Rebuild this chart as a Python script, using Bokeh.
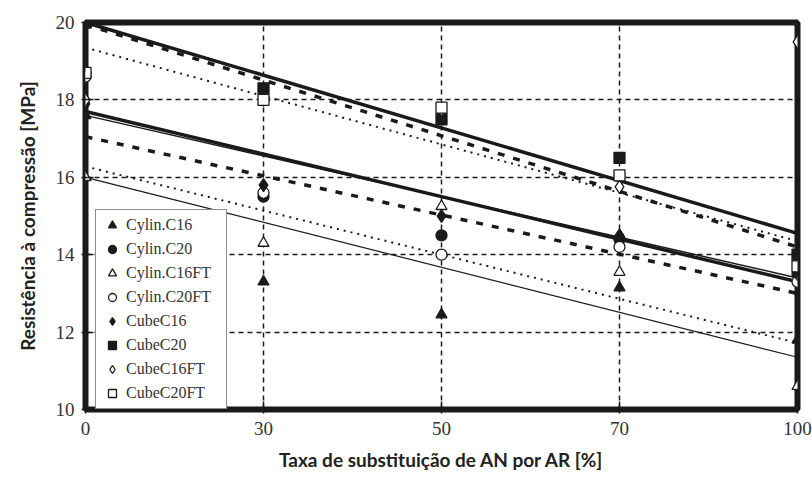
from bokeh.plotting import figure
from bokeh.models import Range1d, Legend, LegendItem, FixedTicker
from bokeh.embed import file_html
from bokeh.resources import INLINE

# ---- data ----
x_labels = ["0", "30", "50", "70", "100"]
x_pos = [0, 1, 2, 3, 4]

cylin_c16 = [17.6, 13.3, 12.45, 13.15, 11.8]
cylin_c20 = [18.7, 15.5, 14.5, 14.4, 13.5]
cylin_c16ft = [16.0, 14.3, 15.25, 13.55, 10.6]
cylin_c20ft = [18.6, 15.6, 14.0, 14.2, 13.3]
cube_c16 = [17.9, 15.8, 15.0, 14.5, 13.5]
cube_c20 = [20.0, 18.3, 17.5, 16.5, 14.0]
cube_c16ft = [18.0, 18.0, 17.75, 15.75, 19.5]
cube_c20ft = [18.7, 18.0, 17.8, 16.05, 13.7]

# trend lines (value at 0 and at 100)
trend_start = [20.0, 19.95, 19.35, 17.7, 17.6, 17.05, 16.28, 16.0]
trend_end = [14.55, 14.2, 14.35, 13.3, 13.4, 13.0, 11.72, 11.35]
trend_width = [3.5, 3.5, 2.0, 3.5, 1.5, 3.5, 2.0, 1.2]
trend_dash = ["solid", "7 9", "2 5", "solid", "solid", "7 9", "2 5", "solid"]

y_ticks = [10, 12, 14, 16, 18, 20]

p = figure(width=812, height=482, output_backend="svg", toolbar_location=None,
           x_range=Range1d(0, 4), y_range=Range1d(10, 20),
           min_border_left=85, min_border_right=15, min_border_top=22,
           min_border_bottom=73)

p.background_fill_color = "white"
p.border_fill_color = "white"
p.outline_line_color = "#1a1a1a"
p.outline_line_width = 6

# grid
p.xgrid.ticker = FixedTicker(ticks=[1, 2, 3])
p.ygrid.ticker = FixedTicker(ticks=[12, 14, 16, 18])
for g in (p.xgrid, p.ygrid):
    g.grid_line_color = "#1a1a1a"
    g.grid_line_width = 1.5
    g.grid_line_dash = "5 4"

# axes
p.xaxis.ticker = FixedTicker(ticks=x_pos)
p.xaxis.major_label_overrides = {i: s for i, s in zip(x_pos, x_labels)}
p.yaxis.ticker = FixedTicker(ticks=y_ticks)
for ax in (p.xaxis, p.yaxis):
    ax.axis_line_color = None
    ax.major_tick_line_color = "#1a1a1a"
    ax.major_tick_line_width = 1.5
    ax.major_tick_in = 8
    ax.major_tick_out = 4
    ax.minor_tick_line_color = None
    ax.major_label_text_font = "Liberation Serif"
    ax.major_label_text_font_size = "19px"
    ax.major_label_text_color = "#333333"
    ax.axis_label_text_font = "Lato"
    ax.axis_label_text_font_style = "bold"
    ax.axis_label_text_font_size = "19px"
    ax.axis_label_text_color = "#222222"

p.xaxis.axis_label = "Taxa de substituição de AN por AR [%]"
p.yaxis.axis_label = "Resistência à compressão [MPa]"
p.xaxis.major_label_standoff = 8
p.xaxis.axis_label_standoff = 10
p.yaxis.major_label_standoff = 7
p.yaxis.axis_label_standoff = 14

# trend lines
for s, e, w, d in zip(trend_start, trend_end, trend_width, trend_dash):
    p.line([x_pos[0], x_pos[-1]], [s, e], line_color="#1a1a1a", line_width=w, line_dash=d)

# markers
series = [
    ("Cylin.C16", cylin_c16, "triangle", "#1a1a1a"),
    ("Cylin.C20", cylin_c20, "circle", "#1a1a1a"),
    ("Cylin.C16FT", cylin_c16ft, "triangle", "white"),
    ("Cylin.C20FT", cylin_c20ft, "circle", "white"),
    ("CubeC16", cube_c16, "diamond", "#1a1a1a"),
    ("CubeC20", cube_c20, "square", "#1a1a1a"),
    ("CubeC16FT", cube_c16ft, "diamond", "white"),
    ("CubeC20FT", cube_c20ft, "square", "white"),
]
items = []
for name, vals, mk, fill in series:
    size = 13 if mk == "diamond" else 11
    r = p.scatter(x_pos, vals, marker=mk, size=size, fill_color=fill,
                  line_color="#1a1a1a", line_width=1.3)
    items.append(LegendItem(label=name, renderers=[r]))

legend = Legend(items=items, location=(10, 0))
legend.label_text_font = "Liberation Serif"
legend.label_text_font_size = "16px"
legend.label_text_color = "#333333"
legend.border_line_color = "#1a1a1a"
legend.border_line_width = 1.5
legend.background_fill_color = "white"
legend.background_fill_alpha = 1
legend.padding = 5
legend.margin = 0
legend.spacing = 4
legend.glyph_width = 22
legend.glyph_height = 20
legend.label_height = 20
legend.label_width = 95
legend.label_standoff = 3
p.add_layout(legend, "center")

open("out.html", "w").write(file_html(p, INLINE))
